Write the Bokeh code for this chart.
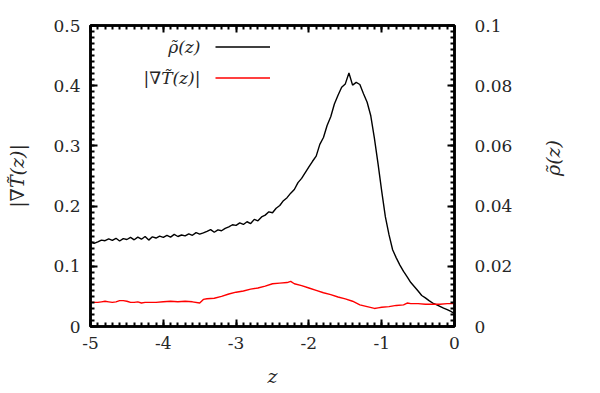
import math
from bokeh.plotting import figure
from bokeh.models import Range1d, LinearAxis, FixedTicker, Legend, LegendItem, Label
from bokeh.embed import file_html
from bokeh.resources import INLINE

# Density profile rho~(z) (right axis)
z_rho = [-5.00, -4.95, -4.90, -4.85, -4.80, -4.75, -4.70, -4.65, -4.60, -4.55,
         -4.50, -4.45, -4.40, -4.35, -4.30, -4.25, -4.20, -4.15, -4.10, -4.05,
         -4.00, -3.95, -3.90, -3.85, -3.80, -3.75, -3.70, -3.65, -3.60, -3.55,
         -3.50, -3.45, -3.40, -3.35, -3.30, -3.25, -3.20, -3.15, -3.10, -3.05,
         -3.00, -2.95, -2.90, -2.85, -2.80, -2.75, -2.70, -2.65, -2.60, -2.55,
         -2.50, -2.45, -2.40, -2.35, -2.30, -2.25, -2.20, -2.15, -2.10, -2.05,
         -2.00, -1.95, -1.90, -1.85, -1.80, -1.75, -1.70, -1.65, -1.60, -1.55,
         -1.50, -1.45, -1.40, -1.35, -1.30, -1.25, -1.20, -1.15, -1.10, -1.05,
         -1.00, -0.95, -0.90, -0.85, -0.80, -0.75, -0.70, -0.65, -0.60, -0.55,
         -0.50, -0.45, -0.40, -0.35, -0.30, -0.25, -0.20, -0.15, -0.10, -0.05,
         0.00]
rho = [0.0283, 0.0276, 0.0281, 0.0287, 0.0285, 0.0291, 0.0286, 0.0293, 0.0284, 0.0292,
       0.0289, 0.0296, 0.0288, 0.0297, 0.0290, 0.0299, 0.0287, 0.0298, 0.0294, 0.0300,
       0.0296, 0.0303, 0.0297, 0.0306, 0.0299, 0.0304, 0.0301, 0.0308, 0.0303, 0.0312,
       0.0307, 0.0311, 0.0316, 0.0322, 0.0313, 0.0321, 0.0318, 0.0326, 0.0331, 0.0338,
       0.0336, 0.0344, 0.0339, 0.0348, 0.0342, 0.0356, 0.0351, 0.0364, 0.0370, 0.0381,
       0.0378, 0.0393, 0.0402, 0.0418, 0.0428, 0.0443, 0.0455, 0.0478, 0.0492, 0.0511,
       0.0530, 0.0549, 0.0566, 0.0605, 0.0628, 0.0668, 0.0697, 0.0739, 0.0768, 0.0795,
       0.0806, 0.0842, 0.0802, 0.0811, 0.0804, 0.0773, 0.0745, 0.0700, 0.0625, 0.0540,
       0.0450, 0.0365, 0.0305, 0.0255, 0.0228, 0.0204, 0.0183, 0.0165, 0.0146, 0.0132,
       0.0118, 0.0103, 0.0095, 0.0086, 0.0078, 0.0073, 0.0067, 0.0061, 0.0056, 0.0050,
       0.0043]

# Temperature gradient magnitude |grad T~(z)| (left axis)
z_grad = [-5.00, -4.90, -4.85, -4.80, -4.75, -4.70, -4.65, -4.60, -4.55, -4.50,
          -4.45, -4.40, -4.35, -4.30, -4.25, -4.20, -4.10, -4.00, -3.90, -3.80,
          -3.70, -3.60, -3.50, -3.45, -3.40, -3.30, -3.20, -3.10, -3.00, -2.90,
          -2.80, -2.70, -2.60, -2.50, -2.40, -2.30, -2.25, -2.20, -2.10, -2.00,
          -1.90, -1.80, -1.70, -1.60, -1.50, -1.40, -1.30, -1.20, -1.10, -1.05,
          -1.00, -0.90, -0.80, -0.70, -0.65, -0.60, -0.50, -0.40, -0.30, -0.20,
          -0.10, -0.03, 0.00]
grad = [0.040, 0.040, 0.041, 0.042, 0.041, 0.040, 0.041, 0.043, 0.043, 0.042,
        0.040, 0.040, 0.041, 0.039, 0.040, 0.040, 0.040, 0.041, 0.042, 0.041,
        0.042, 0.041, 0.039, 0.045, 0.046, 0.047, 0.050, 0.054, 0.057, 0.059,
        0.062, 0.064, 0.067, 0.071, 0.072, 0.073, 0.075, 0.071, 0.068, 0.064,
        0.060, 0.056, 0.053, 0.049, 0.046, 0.042, 0.036, 0.033, 0.030, 0.031,
        0.032, 0.033, 0.035, 0.036, 0.039, 0.038, 0.038, 0.037, 0.037, 0.037,
        0.038, 0.038, 0.040]

x_ticks = [-5, -4, -3, -2, -1, 0]
x_labels = ["-5", "-4", "-3", "-2", "-1", "0"]
left_ticks = [0, 0.1, 0.2, 0.3, 0.4, 0.5]
left_labels = ["0", "0.1", "0.2", "0.3", "0.4", "0.5"]
right_ticks = [0, 0.02, 0.04, 0.06, 0.08, 0.1]
right_labels = ["0", "0.02", "0.04", "0.06", "0.08", "0.1"]
series_names = ["ρ̃(z)", "|∇T̃(z)|"]

FONT = "DejaVu Serif"
TICK_SIZE = "17px"
LABEL_SIZE = "19px"
INK = "#262626"

p = figure(width=600, height=393, output_backend="svg", toolbar_location=None,
           x_range=Range1d(-5, 0), y_range=Range1d(0, 0.5),
           min_border_left=90, min_border_right=146, min_border_top=25,
           min_border_bottom=67)
p.extra_y_ranges = {"rho": Range1d(0, 0.1)}
p.xgrid.visible = False
p.ygrid.visible = False
p.outline_line_color = "black"
p.outline_line_width = 2.5
p.background_fill_color = "white"
p.border_fill_color = "white"


def style_axis(ax, ticks, minor, labels):
    ax.ticker = FixedTicker(ticks=ticks, minor_ticks=minor)
    ax.major_label_overrides = dict(zip(ticks, labels))
    ax.axis_line_width = 2.5
    ax.major_tick_in = 7
    ax.major_tick_out = 0
    ax.minor_tick_in = 4
    ax.minor_tick_out = 0
    ax.major_tick_line_width = 2
    ax.minor_tick_line_width = 2
    ax.major_label_text_font = FONT
    ax.major_label_text_font_size = TICK_SIZE
    ax.major_label_text_color = INK
    ax.axis_label_text_font = FONT
    ax.axis_label_text_font_size = LABEL_SIZE
    ax.axis_label_text_font_style = "italic"
    ax.axis_label_text_color = INK


x_minor = [round(-5 + 0.1 * i, 2) for i in range(51)]
left_minor = [round(0.01 * i, 3) for i in range(51)]
right_minor = [round(0.002 * i, 4) for i in range(51)]

xa = p.xaxis[0]
style_axis(xa, x_ticks, x_minor, x_labels)
xa.major_label_standoff = 10
xa.axis_label = "z"
xa.axis_label_standoff = 13

ya = p.yaxis[0]
style_axis(ya, left_ticks, left_minor, left_labels)
ya.major_label_standoff = 10
ya.axis_label = series_names[1]
ya.axis_label_standoff = 22

ra = LinearAxis(y_range_name="rho")
style_axis(ra, right_ticks, right_minor, right_labels)
ra.major_label_standoff = 20
ra.axis_label = series_names[0]
ra.axis_label_standoff = 38
ra.axis_label_orientation = math.pi / 2
p.add_layout(ra, "right")

# mirrored ticks along the top edge, without labels
ta = LinearAxis()
style_axis(ta, x_ticks, x_minor, [""] * len(x_ticks))
ta.major_label_standoff = 0
p.add_layout(ta, "above")

r_rho = p.line(z_rho, rho, y_range_name="rho", line_color="black", line_width=1.4)
r_grad = p.line(z_grad, grad, line_color="#ff0000", line_width=1.4)

# Key: sample lines only; their names are placed to the left
legend = Legend(items=[LegendItem(label="", renderers=[r_rho]),
                       LegendItem(label="", renderers=[r_grad])],
                location=(125, 233), glyph_width=55, glyph_height=31,
                label_height=31, label_width=0, label_standoff=0, spacing=0,
                padding=0, margin=0, border_line_color=None,
                background_fill_alpha=0, label_text_font=FONT,
                label_text_font_size=TICK_SIZE)
p.add_layout(legend, "center")

key_y = [0.4635, 0.412]
for name, yv in zip(series_names, key_y):
    p.add_layout(Label(x=-3.49, y=yv, text=name, text_align="right",
                       text_baseline="middle", text_font=FONT,
                       text_font_size=TICK_SIZE, text_font_style="italic",
                       text_color=INK))

open("out.html", "w").write(file_html(p, INLINE))
